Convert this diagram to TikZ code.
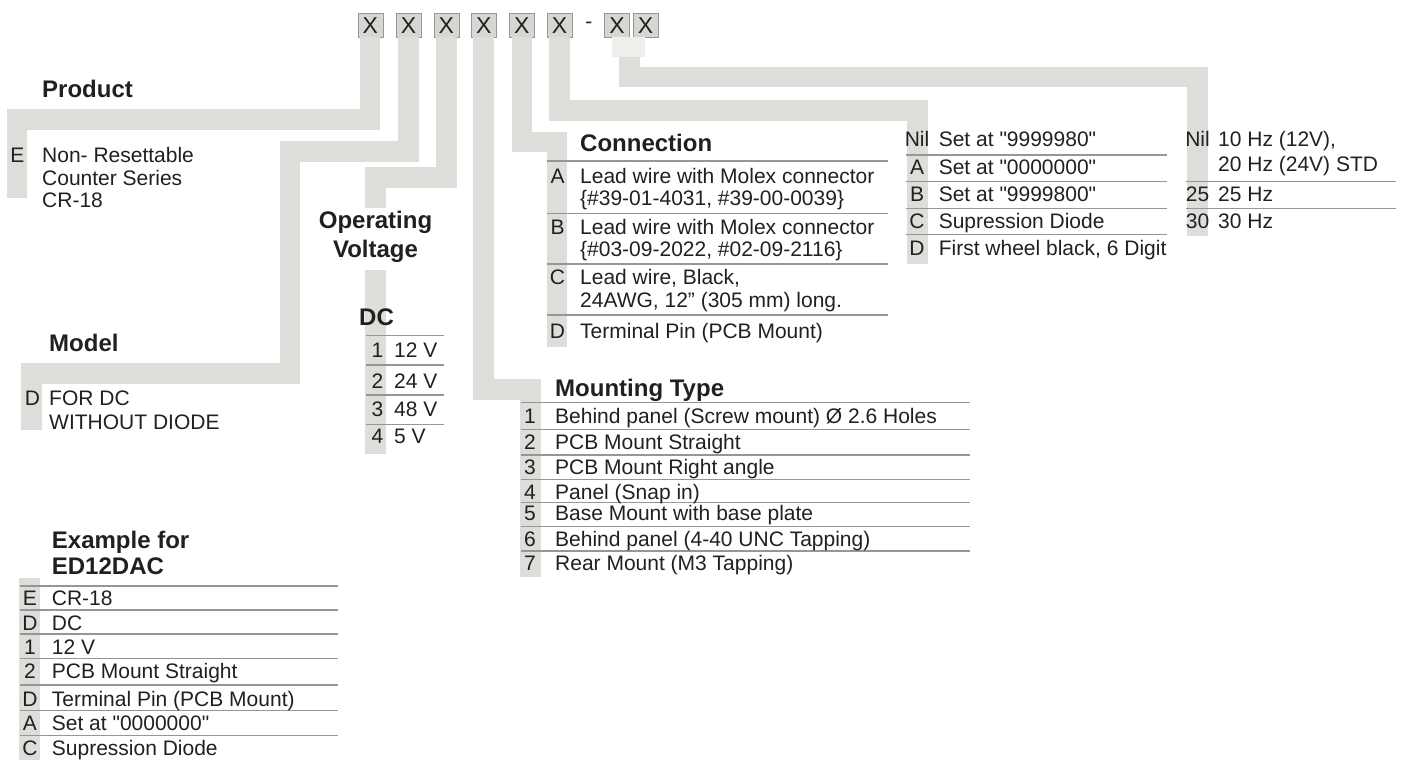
\documentclass[tikz,border=0pt]{standalone}
\usepackage{fontspec}
\setmainfont{Liberation Sans}[Ligatures=TeXOff]
\usepackage{xcolor}
\usepackage{tikz}
\usetikzlibrary{positioning}

\definecolor{bandgrey}{RGB}{221,222,217}
\definecolor{boxgrey}{RGB}{214,215,211}
\definecolor{rulegrey}{RGB}{150,150,150}
\definecolor{ink}{RGB}{35,31,32}

\begin{document}
\begin{tikzpicture}[
    x=1pt, y=-1pt,
    every node/.style={text=ink, inner sep=0pt},
    xbox/.style={draw=rulegrey, fill=boxgrey, minimum width=25pt, minimum height=24pt, font=\fontsize{23pt}{23pt}\selectfont},
    band/.style={draw=bandgrey, line width=20.5pt},
    rule/.style={draw=rulegrey, line width=1.3pt},
    ttl/.style={anchor=base west, align=left, font=\bfseries\fontsize{24pt}{26pt}\selectfont},
    key/.style={anchor=base, font=\fontsize{21pt}{22.5pt}\selectfont},
    txt/.style={anchor=base west, align=left, font=\fontsize{21pt}{22.5pt}\selectfont}
  ]
    \useasboundingbox (0,0) rectangle (1405,760);

    % code boxes
    \node[xbox] (b1) at (370.2,25.3) {X};
    \node[xbox, right=13pt of b1] (b2) {X};
    \node[xbox, right=12.3pt of b2] (b3) {X};
    \node[xbox, right=12pt of b3] (b4) {X};
    \node[xbox, right=12.7pt of b4] (b5) {X};
    \node[xbox, right=12.3pt of b5] (b6) {X};
    \node[key, anchor=center, right=13pt of b6] (dash) {-};
    \node[xbox, right=11.8pt of dash] (b7) {X};
    \node[xbox, right=3pt of b7] (b8) {X};

    % ends of the grey bands
    \coordinate (prodend) at (17,198);
    \coordinate (modend) at (31.3,430);
    \coordinate (volend) at (375.5,208);
    \coordinate (dctop) at (375.5,270);
    \coordinate (dcend) at (375.5,454);
    \coordinate (mntend) at (530.7,577);
    \coordinate (conend) at (557,347);
    \coordinate (setend) at (917.5,264);
    \coordinate (xxtop) at (629.3,57);
    \coordinate (frqend) at (1197.5,236);
    \coordinate (extop) at (29.7,578.3);
    \coordinate (exend) at (29.7,760);

    \draw[band] (b1.south) -- ++(0,82) -| (prodend);
    \draw[band] (b2.south) -- ++(0,114) -| ++(-118.5,222) -| (modend);
    \draw[band] (b3.south) -- ++(0,140) -| (volend);
    \draw[band] (dctop) -- (dcend);
    \draw[band] (b4.south) -- ++(0,352) -| (mntend);
    \draw[band] (b5.south) -- ++(0,104.5) -| (conend);
    \draw[band] (b6.south) -- ++(0,73) -| (setend);
    \fill[bandgrey!50] (612,37.3) rectangle (645,57);
    \draw[band] (xxtop) -- ++(0,20) -| (frqend);
    \draw[band] (extop) -- (exend);

    % table rules
    \draw[rule] (366,335.5) -- (444,335.5) (366,365) -- (444,365) (366,395) -- (444,395) (366,424.5) -- (444,424.5);
    \draw[rule] (546.7,161) -- (888,161) (546.7,213.3) -- (888,213.3) (546.7,264) -- (888,264) (546.7,315) -- (888,315);
    \draw[rule] (906,155) -- (1167,155) (906,181.7) -- (1167,181.7) (906,208.3) -- (1167,208.3) (906,234.3) -- (1167,234.3);
    \draw[rule] (1186,181.7) -- (1395.6,181.7) (1186,208.3) -- (1395.6,208.3);
    \draw[rule] (520.7,402.7) -- (970,402.7) (520.7,429.3) -- (970,429.3) (520.7,455) -- (970,455) (520.7,479.3) -- (970,479.3);
    \draw[rule] (520.7,502.7) -- (970,502.7) (520.7,526.7) -- (970,526.7) (520.7,551) -- (970,551);
    \draw[rule] (20,586) -- (338.3,586) (20,610) -- (338.3,610) (20,634) -- (338.3,634) (20,658.3) -- (338.3,658.3);
    \draw[rule] (20,685) -- (338.3,685) (20,710.7) -- (338.3,710.7) (20,735.7) -- (338.3,735.7);

    % Product (base of a multi-line node = last line)
    \node[ttl] (prodttl) at (42,97) {Product};
    \node[key] (prodkey) at (17.5,162.5) {E};
    \node[txt] (prodtxt) at (42,207.5) {Non- Resettable\\Counter Series\\CR-18};

    % Model
    \node[ttl] (modttl) at (49,351.5) {Model};
    \node[key] (modkey) at (32.5,405.5) {D};
    \node[txt, font=\fontsize{21pt}{23.5pt}\selectfont] (modtxt) at (49,429) {FOR DC\\WITHOUT DIODE};

    % Operating voltage
    \node[ttl, anchor=base, align=center, font=\bfseries\fontsize{24pt}{29pt}\selectfont] (volttl) at (375.5,257) {Operating\\Voltage};
    \node[ttl, anchor=base] (dcttl) at (376.5,325) {DC};
    \node[key] (v1) at (377.5,357.5) {1};
    \node[txt] (v1t) at (394,357.5) {12 V};
    \node[key] (v2) at (377.5,388.5) {2};
    \node[txt] (v2t) at (394,388.5) {24 V};
    \node[key] (v3) at (377.5,416.5) {3};
    \node[txt] (v3t) at (394,416.5) {48 V};
    \node[key] (v4) at (377.5,443.5) {4};
    \node[txt] (v4t) at (394,443.5) {5 V};

    % Connection
    \node[ttl] (conttl) at (580,151) {Connection};
    \node[key] (conA) at (557.5,183.5) {A};
    \node[txt] (conAt) at (580,205.5) {Lead wire with Molex connector\\\{\#39-01-4031, \#39-00-0039\}};
    \node[key] (conB) at (557.5,234.2) {B};
    \node[txt] (conBt) at (580,256.7) {Lead wire with Molex connector\\\{\#03-09-2022, \#02-09-2116\}};
    \node[key] (conC) at (557.5,284.8) {C};
    \node[txt] (conCt) at (580,307.3) {Lead wire, Black,\\24AWG, 12” (305 mm) long.};
    \node[key] (conD) at (557.5,338.5) {D};
    \node[txt] (conDt) at (580,338.5) {Terminal Pin (PCB Mount)};

    % Preset
    \node[key] (setnil) at (917,146.5) {Nil};
    \node[txt] (setnilt) at (938.6,146.5) {Set at "9999980"};
    \node[key] (setA) at (917,174.2) {A};
    \node[txt] (setAt) at (938.6,174.2) {Set at "0000000"};
    \node[key] (setB) at (917,201.5) {B};
    \node[txt] (setBt) at (938.6,201.5) {Set at "9999800"};
    \node[key] (setC) at (917,228.2) {C};
    \node[txt] (setCt) at (938.6,228.2) {Supression Diode};
    \node[key] (setD) at (917,255.8) {D};
    \node[txt] (setDt) at (938.6,255.8) {First wheel black, 6 Digit};

    % Frequency
    \node[key] (frqnil) at (1197.5,146.5) {Nil};
    \node[txt, font=\fontsize{21pt}{25pt}\selectfont] (frqnilt) at (1218,171.5) {10 Hz (12V),\\20 Hz (24V) STD};
    \node[key] (frq25) at (1197.5,201.5) {25};
    \node[txt] (frq25t) at (1218,201.5) {25 Hz};
    \node[key] (frq30) at (1197.5,228.2) {30};
    \node[txt] (frq30t) at (1218,228.2) {30 Hz};

    % Mounting type
    \node[ttl] (mntttl) at (555,396.6) {Mounting Type};
    \node[key] (m1) at (530,423.5) {1};
    \node[txt] (m1t) at (555,423.5) {Behind panel (Screw mount) Ø 2.6 Holes};
    \node[key] (m2) at (530,449.2) {2};
    \node[txt] (m2t) at (555,449.2) {PCB Mount Straight};
    \node[key] (m3) at (530,474.2) {3};
    \node[txt] (m3t) at (555,474.2) {PCB Mount Right angle};
    \node[key] (m4) at (530,499.2) {4};
    \node[txt] (m4t) at (555,499.2) {Panel (Snap in)};
    \node[key] (m5) at (530,520.8) {5};
    \node[txt] (m5t) at (555,520.8) {Base Mount with base plate};
    \node[key] (m6) at (530,546.8) {6};
    \node[txt] (m6t) at (555,546.8) {Behind panel (4-40 UNC Tapping)};
    \node[key] (m7) at (530,570.2) {7};
    \node[txt] (m7t) at (555,570.2) {Rear Mount (M3 Tapping)};

    % Example
    \node[ttl] (exttl) at (51.7,574) {Example for\\ED12DAC};
    \node[key] (e1) at (30,605.2) {E};
    \node[txt] (e1t) at (51.7,605.2) {CR-18};
    \node[key] (e2) at (30,630.2) {D};
    \node[txt] (e2t) at (51.7,630.2) {DC};
    \node[key] (e3) at (30,654.2) {1};
    \node[txt] (e3t) at (51.7,654.2) {12 V};
    \node[key] (e4) at (30,678.5) {2};
    \node[txt] (e4t) at (51.7,678.5) {PCB Mount Straight};
    \node[key] (e5) at (30,706.8) {D};
    \node[txt] (e5t) at (51.7,706.8) {Terminal Pin (PCB Mount)};
    \node[key] (e6) at (30,730.8) {A};
    \node[txt] (e6t) at (51.7,730.8) {Set at "0000000"};
    \node[key] (e7) at (30,755.8) {C};
    \node[txt] (e7t) at (51.7,755.8) {Supression Diode};
  \end{tikzpicture}
\end{document}
